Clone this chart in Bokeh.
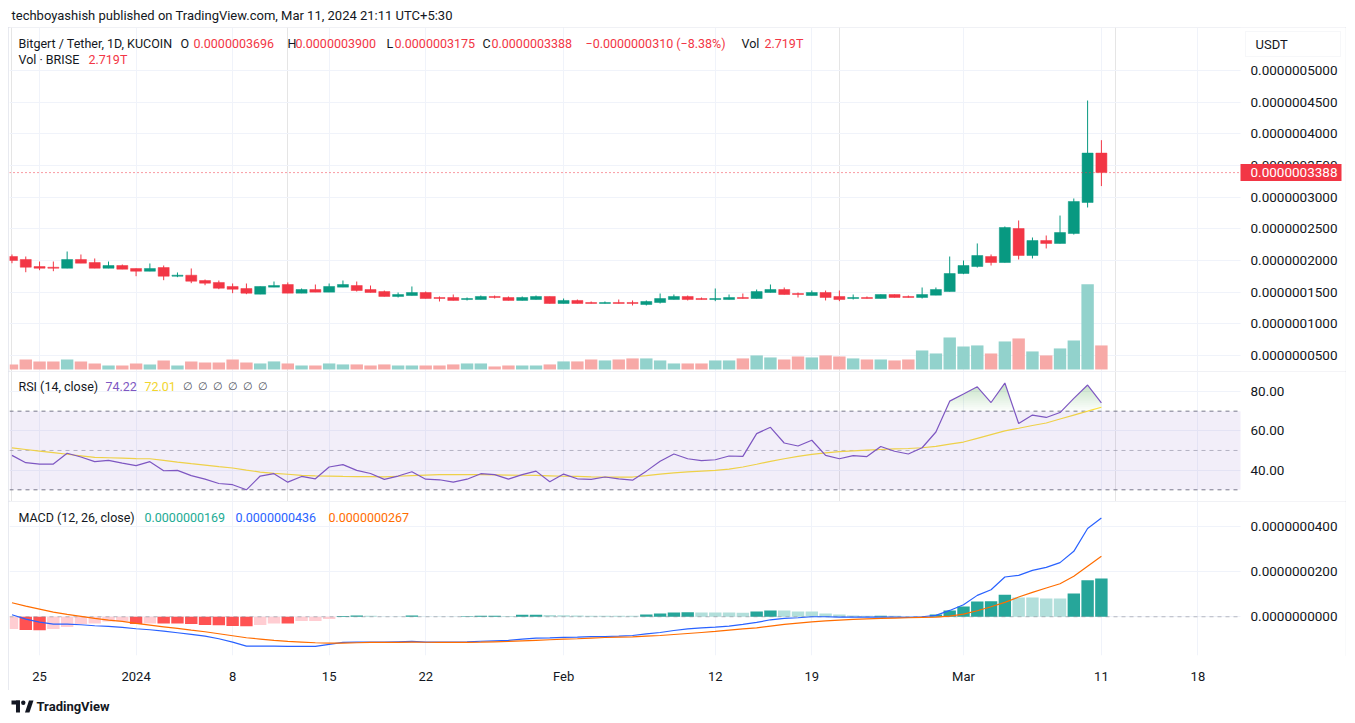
import numpy as np
import pandas as pd
from bokeh.plotting import figure
from bokeh.layouts import column
from bokeh.models import (ColumnDataSource, Range1d, FixedTicker, BoxAnnotation,
                          Label, Grid, PrintfTickFormatter)
from bokeh.embed import file_html
from bokeh.resources import INLINE

# ---------------------------------------------------------------- data
START_DATE = "2023-12-23"
N_DAYS = 80
E10 = 1e-10  # prices below are given in units of 1e-10 USDT

OPEN_E10 = [2063, 2016, 1905, 1894, 1878, 2016, 1968, 1878, 1921, 1874,
            1831, 1889, 1752, 1768, 1684, 1653, 1590, 1558, 1468, 1579,
            1621, 1484, 1542, 1500, 1579, 1605, 1542, 1510, 1432, 1447,
            1495, 1416, 1416, 1384, 1384, 1432, 1416, 1369, 1384, 1432,
            1321, 1369, 1337, 1321, 1337, 1337, 1305, 1337, 1384, 1432,
            1400, 1384, 1384, 1416, 1400, 1495, 1542, 1479, 1447, 1495,
            1432, 1400, 1416, 1400, 1463, 1432, 1416, 1452, 1510, 1795,
            1905, 2063, 1968, 2505, 2079, 2316, 2269, 2426, 2916, 3696]
HIGH_E10 = [2095, 2063, 1984, 1984, 2142, 2095, 2032, 1984, 1937, 1874,
            1953, 1921, 1811, 1874, 1700, 1684, 1637, 1637, 1590, 1668,
            1653, 1558, 1621, 1637, 1684, 1668, 1605, 1526, 1495, 1590,
            1510, 1432, 1463, 1416, 1447, 1447, 1432, 1432, 1447, 1432,
            1400, 1384, 1353, 1353, 1384, 1369, 1369, 1479, 1463, 1447,
            1416, 1558, 1463, 1479, 1542, 1621, 1574, 1495, 1526, 1526,
            1526, 1463, 1432, 1463, 1463, 1447, 1574, 1574, 2063, 2000,
            2269, 2095, 2537, 2632, 2363, 2395, 2710, 2979, 4526, 3900]
LOW_E10 = [1957, 1815, 1847, 1831, 1878, 1958, 1878, 1878, 1863, 1752,
           1831, 1689, 1737, 1642, 1610, 1547, 1484, 1468, 1468, 1579,
           1484, 1484, 1500, 1500, 1579, 1510, 1495, 1432, 1416, 1447,
           1400, 1353, 1369, 1369, 1384, 1400, 1369, 1369, 1384, 1321,
           1321, 1321, 1321, 1321, 1321, 1290, 1290, 1321, 1384, 1369,
           1384, 1358, 1384, 1400, 1400, 1495, 1463, 1416, 1447, 1369,
           1358, 1384, 1400, 1400, 1416, 1416, 1400, 1452, 1510, 1784,
           1889, 1921, 1968, 2016, 2032, 2190, 2269, 2410, 2837, 3175]
CLOSE_E10 = [2000, 1894, 1878, 1878, 2016, 1958, 1878, 1921, 1863, 1831,
             1874, 1752, 1768, 1673, 1642, 1563, 1547, 1484, 1590, 1605,
             1484, 1542, 1500, 1590, 1621, 1526, 1495, 1432, 1463, 1495,
             1400, 1400, 1369, 1400, 1432, 1416, 1369, 1416, 1432, 1321,
             1369, 1321, 1321, 1337, 1321, 1321, 1353, 1400, 1432, 1384,
             1384, 1400, 1416, 1400, 1510, 1542, 1463, 1463, 1495, 1416,
             1384, 1416, 1400, 1463, 1416, 1416, 1463, 1542, 1795, 1921,
             2079, 1968, 2521, 2079, 2316, 2269, 2442, 2932, 3696, 3388]
VOL_T = [0.57, 1.13, 0.91, 0.91, 1.13, 0.91, 0.68, 0.45, 0.45, 0.68,
         0.57, 1.02, 0.45, 0.91, 0.79, 0.79, 1.13, 0.79, 0.68, 0.91,
         0.68, 0.45, 0.45, 0.68, 0.57, 0.57, 0.45, 0.57, 0.45, 0.45,
         0.45, 0.45, 0.57, 0.68, 0.68, 0.34, 0.45, 0.45, 0.45, 0.57,
         0.91, 0.91, 1.13, 1.02, 1.13, 1.25, 1.25, 1.02, 0.68, 0.68,
         0.68, 1.02, 1.02, 1.25, 1.59, 1.36, 1.13, 1.47, 1.36, 1.59,
         1.47, 1.25, 1.13, 1.13, 1.02, 1.13, 2.15, 1.81, 3.62, 2.60,
         2.72, 1.81, 3.17, 3.51, 2.04, 1.59, 2.38, 3.28, 9.63, 2.719]

RSI = [47.5, 43.8, 43.1, 43.1, 48.6, 46.7, 44.3, 45.0, 43.6, 42.3,
       44.3, 39.7, 39.9, 37.2, 35.4, 33.2, 32.6, 30.0, 37.0, 38.2,
       33.9, 36.8, 35.6, 41.6, 42.8, 39.9, 38.3, 35.3, 37.0, 39.2,
       35.4, 35.1, 33.9, 35.4, 38.2, 37.7, 35.4, 37.7, 39.5, 34.1,
       38.0, 35.6, 35.3, 36.5, 35.6, 34.9, 39.5, 44.5, 48.2, 45.8,
       44.8, 45.3, 47.2, 47.0, 58.6, 61.8, 53.8, 52.3, 55.2, 47.5,
       45.8, 47.4, 46.9, 52.0, 49.6, 48.2, 51.4, 59.4, 75.1, 78.7,
       82.4, 74.4, 84.3, 63.7, 68.0, 66.8, 69.3, 76.5, 83.3, 74.22]
RSI_MA = [51.3, 50.5, 49.7, 48.9, 48.1, 47.3, 46.5, 46.3, 46.1, 45.9,
          45.8, 45.0, 44.1, 43.3, 42.6, 41.8, 41.1, 40.0, 39.0, 38.4,
          37.9, 37.3, 37.1, 37.0, 36.8, 36.7, 36.7, 36.6, 36.9, 37.2,
          37.5, 37.7, 37.7, 37.7, 37.7, 37.6, 37.5, 37.4, 37.3, 37.1,
          36.9, 36.8, 36.6, 36.5, 36.5, 36.5, 37.2, 38.0, 38.6, 39.1,
          39.5, 39.9, 40.5, 41.6, 43.0, 44.5, 45.8, 47.0, 48.0, 48.8,
          49.4, 49.8, 50.2, 50.5, 50.8, 51.0, 51.4, 52.1, 53.2, 54.3,
          56.2, 58.1, 60.0, 61.3, 62.7, 64.0, 66.0, 68.0, 70.0, 72.01]

MACD_E10 = [8.8, -10.3, -23.5, -32.4, -32.4, -35.3, -39.7, -42.7, -47.1, -53.0,
            -57.4, -63.3, -70.6, -78.0, -85.4, -97.0, -112.0, -129.5, -129.5, -129.5,
            -131.0, -131.0, -131.0, -122.0, -113.3, -111.8, -111.8, -111.8, -110.4, -108.9,
            -111.8, -111.8, -111.8, -111.0, -108.0, -106.0, -104.0, -99.0, -94.0, -93.0,
            -91.0, -90.0, -88.0, -87.0, -85.6, -82.7, -75.3, -69.4, -60.5, -53.1,
            -48.7, -45.8, -41.3, -33.9, -25.1, -13.3, -7.4, -4.4, 0.0, 0.0,
            -1.5, -1.5, -1.5, -1.5, -1.5, -3.0, 0.0, 5.9, 28.0, 53.0,
            94.5, 119.6, 175.6, 183.0, 205.0, 218.4, 239.0, 289.0, 389.7, 436.0]
SIGNAL_E10 = [61.8, 47.1, 33.8, 20.6, 10.3, 1.5, -7.4, -14.7, -20.6, -29.4,
              -36.8, -44.2, -51.5, -58.9, -66.2, -75.0, -83.9, -92.7, -98.6, -104.5,
              -108.9, -111.8, -114.8, -116.3, -116.3, -114.8, -113.3, -113.3, -113.3, -111.8,
              -112.5, -113.0, -113.3, -113.0, -112.0, -110.5, -109.0, -106.5, -104.0, -101.5,
              -99.0, -97.0, -94.0, -91.5, -90.0, -88.6, -85.6, -82.7, -78.2, -73.8,
              -69.4, -64.9, -59.0, -53.1, -48.7, -41.3, -33.9, -28.0, -22.1, -17.7,
              -14.8, -11.8, -8.9, -7.4, -5.9, -4.4, -3.0, -1.5, 3.0, 11.8,
              26.6, 44.3, 63.5, 87.1, 107.7, 127.0, 146.0, 178.6, 222.9, 267.0]
HIST_E10 = [-54.5, -58.9, -59.2, -54.5, -45.6, -32.4, -29.4, -20.6, -20.3, -32.4,
            -29.4, -29.6, -29.8, -32.4, -36.8, -37.0, -41.2, -41.4, -36.8, -29.4,
            -29.6, -19.1, -18.9, -10.3, 2.9, 5.9, 4.4, 1.5, 1.3, 5.9,
            1.5, 1.3, 1.2, 2.5, 4.0, 4.4, 3.0, 8.5, 9.0, 7.5,
            6.5, 5.5, 5.0, 4.6, 4.3, 4.0, 10.3, 14.8, 19.2, 19.5,
            19.0, 18.8, 18.5, 18.2, 23.6, 28.0, 27.5, 23.6, 23.0, 14.8,
            10.3, 5.9, 4.4, 4.8, 4.2, 1.5, 1.2, 10.3, 28.0, 45.8,
            67.9, 68.5, 97.4, 85.6, 85.0, 81.2, 80.5, 103.3, 161.0, 169.0]

TICK_DATES = ["2023-12-25", "2024-01-01", "2024-01-08", "2024-01-15", "2024-01-22",
              "2024-02-01", "2024-02-12", "2024-02-19", "2024-03-01", "2024-03-11",
              "2024-03-18"]
TICK_LABELS = ["25", "2024", "8", "15", "22", "Feb", "12", "19", "Mar", "11", "18"]
PRICE_TICKS_E10 = [500, 1000, 1500, 2000, 2500, 3000, 3500, 4000, 4500, 5000]
RSI_TICKS = [40, 60, 80]
RSI_LEVELS = [70, 50, 30]
MACD_TICKS_E10 = [0, 200, 400]

TITLE = "techboyashish published on TradingView.com, Mar 11, 2024 21:11 UTC+5:30"
SYMBOL = "Bitgert / Tether, 1D, KUCOIN"
CHANGE_TEXT = "\u22120.0000000310 (\u22128.38%)"
VOL_TEXT = "2.719T"

# ---------------------------------------------------------------- styles / geometry
FONT = "Roboto"
TXT = "#131722"
GRID = "#f0f3fa"
UP = "#089981"
DOWN = "#f23645"
VOL_UP = "#92d2cc"
VOL_DOWN = "#f7a9a7"
RSI_C = "#7e57c2"
RSI_MA_C = "#fbdf3b"
MACD_C = "#2962ff"
SIG_C = "#ff6d00"
HIST_TEAL = "#22ab94"
BOX = {"outline": "1px solid #e0e3eb", "outline-offset": "-1px"}

W = 1338               # figure width (page x 8 .. 1346)
FRAME_LEFT = 9         # page x of the frame's left edge
FRAME_RIGHT = 1345     # page x of the frame's right edge (axis labels drawn inside)
AXIS_EDGE = 1240       # page x where the price-scale area begins
PX_DAY = 13.79
X0 = -0.18


def xd(px):
    """page x -> day index"""
    return X0 + (px - FRAME_LEFT) / PX_DAY


X_END = xd(FRAME_RIGHT)
X_EDGE = xd(AXIS_EDGE)

dates = pd.date_range(START_DATE, periods=N_DAYS, freq="D")
x = np.array((dates - dates[0]).days, dtype=float)
tick_x = [int((pd.Timestamp(d) - dates[0]).days) for d in TICK_DATES]
overrides = {}
for t, lab in zip(tick_x, TICK_LABELS):
    overrides[t] = lab
    overrides[str(t)] = lab

o = np.array(OPEN_E10) * E10
h = np.array(HIGH_E10) * E10
l = np.array(LOW_E10) * E10
c = np.array(CLOSE_E10) * E10
up = c >= o
cs = ColumnDataSource(dict(
    x=x, o=o, h=h, l=l, c=c,
    top=np.maximum(o, c), bot=np.minimum(o, c),
    col=np.where(up, UP, DOWN),
    vol=np.array(VOL_T), vcol=np.where(up, VOL_UP, VOL_DOWN),
))

x_range = Range1d(X0, X_END)


def base_fig(height, y_range, mb_bottom=0, with_x=False):
    p = figure(width=W, height=height, x_range=x_range, y_range=y_range,
               x_axis_location="below" if with_x else None, y_axis_location="right",
               output_backend="svg", toolbar_location=None,
               min_border_left=FRAME_LEFT - 8, min_border_right=8 + W - FRAME_RIGHT,
               min_border_top=0, min_border_bottom=mb_bottom,
               outline_line_color=None, background_fill_color="white",
               border_fill_color="white", styles=BOX)
    p.yaxis.axis_line_color = None
    p.yaxis.major_tick_line_color = None
    p.yaxis.minor_tick_line_color = None
    p.yaxis.major_tick_out = 0
    p.yaxis.major_tick_in = 0
    # labels are drawn back inside the frame, in the price-scale area
    p.yaxis.major_label_standoff = -(FRAME_RIGHT - AXIS_EDGE - 10)
    p.yaxis.major_label_text_font = FONT
    p.yaxis.major_label_text_font_size = "13.5px"
    p.yaxis.major_label_text_color = TXT
    p.ygrid.grid_line_color = GRID
    if not with_x:
        p.add_layout(Grid(dimension=0, ticker=FixedTicker(ticks=tick_x),
                          grid_line_color=GRID))
    # blank price-scale strip (hides grid lines there)
    p.add_layout(BoxAnnotation(left=X_EDGE, fill_color="white", fill_alpha=1.0,
                               line_color=None, level="underlay"))
    return p


def add_label(p, sx, sy, text, color=TXT, size="12.5px", style="normal", **kw):
    p.add_layout(Label(x=sx, y=sy, x_units="screen", y_units="screen", text=text,
                       text_color=color, text_font=FONT, text_font_size=size,
                       text_font_style=style, text_baseline="middle",
                       text_align="left", **kw))


def hline(p, yv, color, dash, alpha=1.0):
    p.segment(x0=X0, y0=yv, x1=X_EDGE, y1=yv, line_color=color, line_dash=dash,
              line_alpha=alpha, line_width=1)


# ---------------------------------------------------------------- header
header = figure(width=W, height=19, x_range=(0, 1), y_range=(0, 1),
                x_axis_location=None, y_axis_location=None, output_backend="svg",
                toolbar_location=None, min_border=0, outline_line_color=None)
header.grid.visible = False
add_label(header, 2, 12, TITLE, size="13px")

# ---------------------------------------------------------------- price pane
# frame: page y 27 .. 371
PRICE_BOTTOM = 371
PX_PER_E10 = 0.063333
price = base_fig(344, Range1d((6105.2 - 15.789 * 371) * E10, (6105.2 - 15.789 * 27) * E10))
pt = FixedTicker(ticks=[v * E10 for v in PRICE_TICKS_E10])
price.yaxis.ticker = pt
price.ygrid.ticker = pt
price.yaxis.formatter = PrintfTickFormatter(format="%.10f")
price.extra_y_ranges = {"vol": Range1d(-0.23, 38.7)}

price.vbar(x="x", width=0.9, top="vol", bottom=0, fill_color="vcol", line_color=None,
           source=cs, y_range_name="vol")
price.segment(x0="x", y0="h", x1="x", y1="l", line_color="col", line_width=1, source=cs)
price.vbar(x="x", width=0.8, top="top", bottom="bot", fill_color="col", line_color="col",
           line_width=0.5, source=cs)
hline(price, c[-1], DOWN, "1 3")


def pl(px, py):
    return px - FRAME_LEFT, PRICE_BOTTOM - py


add_label(price, *pl(18, 43), SYMBOL)
fields = [("O", o[-1], 180, 193), ("H", h[-1], 287, 295),
          ("L", l[-1], 386, 394), ("C", c[-1], 482, 491)]
for key, val, kx, vx in fields:
    add_label(price, *pl(kx, 43), key)
    add_label(price, *pl(vx, 43), f"{val:.10f}", color=DOWN)
add_label(price, *pl(585, 43), CHANGE_TEXT, color=DOWN)
add_label(price, *pl(741, 43), "Vol")
add_label(price, *pl(764, 43), VOL_TEXT, color=DOWN)
add_label(price, *pl(18, 59), "Vol \u00b7 BRISE")
add_label(price, *pl(88, 59), VOL_TEXT, color=DOWN)

# last-price tag in the price scale
half_tag = 8.5 / PX_PER_E10 * E10
price.add_layout(BoxAnnotation(left=X_EDGE, right=xd(1341), bottom=c[-1] - half_tag,
                               top=c[-1] + half_tag, fill_color=DOWN, fill_alpha=1.0,
                               line_color=None))
price.add_layout(Label(x=xd(1250), y=c[-1], text=f"{c[-1]:.10f}", text_color="white",
                       text_font=FONT, text_font_size="13.5px", text_baseline="middle",
                       text_align="left"))
# currency box
price.add_layout(BoxAnnotation(left=xd(1245), right=xd(1340),
                               bottom=(6105.2 - 15.789 * 56) * E10,
                               top=(6105.2 - 15.789 * 31) * E10,
                               fill_color="white", fill_alpha=1.0,
                               line_color="#e0e3eb", line_width=1))
add_label(price, *pl(1255, 44), "USDT", size="13px")

# ---------------------------------------------------------------- RSI pane
RSI_BOTTOM = 501
rsi = base_fig(130, Range1d(24.05, 90.18))
rt = FixedTicker(ticks=RSI_TICKS)
rsi.yaxis.ticker = rt
rsi.ygrid.ticker = rt
rsi.yaxis.formatter = PrintfTickFormatter(format="%.2f")
rsi.add_layout(BoxAnnotation(bottom=min(RSI_LEVELS), top=max(RSI_LEVELS), right=X_EDGE,
                             fill_color=RSI_C, fill_alpha=0.1, line_color=None))
for lvl in RSI_LEVELS:
    hline(rsi, lvl, "#787b86", "4 4", 0.5 if lvl == 50 else 1.0)


def above_polys(xs, ys, level):
    px, py = [], []
    cx = cy = None
    for k in range(len(xs)):
        x1, y1 = xs[k], ys[k]
        if k > 0:
            x0, y0 = xs[k - 1], ys[k - 1]
            if (y0 > level) != (y1 > level):
                xc = x0 + (level - y0) * (x1 - x0) / (y1 - y0)
                if cx is None:
                    cx, cy = [xc], [level]
                else:
                    cx.append(xc); cy.append(level)
                    px.append(cx); py.append(cy)
                    cx = cy = None
        if y1 > level:
            if cx is None:
                cx, cy = [x1], [level]
            cx.append(x1); cy.append(y1)
    if cx is not None:
        cx.append(cx[-1]); cy.append(level)
        px.append(cx); py.append(cy)
    return px, py


for lvl in np.arange(70.0, 86.0, 1.0):
    pxs, pys = above_polys(list(x), RSI, lvl)
    if pxs:
        rsi.patches(xs=pxs, ys=pys, fill_color="#4caf50", fill_alpha=0.025,
                    line_color=None)
rsi.line(x, RSI_MA, line_color=RSI_MA_C, line_width=1.2)
rsi.line(x, RSI, line_color=RSI_C, line_width=1.2)


def rl(px, py):
    return px - FRAME_LEFT, RSI_BOTTOM - py


add_label(rsi, *rl(18, 386), "RSI (14, close)")
add_label(rsi, *rl(105, 386), f"{RSI[-1]:.2f}", color=RSI_C)
add_label(rsi, *rl(144, 386), f"{RSI_MA[-1]:.2f}", color="#f2d52e")
for k in range(6):
    add_label(rsi, *rl(182 + 15 * k, 386), "\u2205", size="11px", color="#50535e")

# ---------------------------------------------------------------- MACD pane
MACD_BOTTOM = 655
macd = base_fig(189, Range1d(-171 * E10, 509 * E10), mb_bottom=35, with_x=True)
mt = FixedTicker(ticks=[v * E10 for v in MACD_TICKS_E10])
macd.yaxis.ticker = mt
macd.ygrid.ticker = mt
macd.yaxis.formatter = PrintfTickFormatter(format="%.10f")
xt = FixedTicker(ticks=tick_x)
macd.xaxis.ticker = xt
macd.xgrid.ticker = xt
macd.xgrid.grid_line_color = GRID
macd.xaxis.major_label_overrides = overrides
macd.xaxis.axis_line_color = None
macd.xaxis.major_tick_line_color = None
macd.xaxis.minor_tick_line_color = None
macd.xaxis.major_tick_out = 0
macd.xaxis.major_tick_in = 0
macd.xaxis.major_label_standoff = 13
macd.xaxis.major_label_text_font = FONT
macd.xaxis.major_label_text_font_size = "13px"
macd.xaxis.major_label_text_color = TXT

hist = np.array(HIST_E10)
prev = np.concatenate([[hist[0]], hist[:-1]])
hcol = np.where(hist >= 0,
                np.where(hist >= prev, "#26a69a", "#b2dfdb"),
                np.where(hist < prev, "#ff5252", "#ffcdd2"))
hs = ColumnDataSource(dict(x=x, h=hist * E10, col=hcol))
macd.vbar(x="x", width=0.9, top="h", bottom=0, fill_color="col", line_color=None, source=hs)
hline(macd, 0.0, "#787b86", "4 4", 0.5)
macd.line(x, np.array(MACD_E10) * E10, line_color=MACD_C, line_width=1.2)
macd.line(x, np.array(SIGNAL_E10) * E10, line_color=SIG_C, line_width=1.2)


def ml(px, py):
    return px - FRAME_LEFT, MACD_BOTTOM - py


add_label(macd, *ml(18, 517), "MACD (12, 26, close)")
add_label(macd, *ml(144, 517), f"{HIST_E10[-1] * E10:.10f}", color=HIST_TEAL)
add_label(macd, *ml(235, 517), f"{MACD_E10[-1] * E10:.10f}", color=MACD_C)
add_label(macd, *ml(328, 517), f"{SIGNAL_E10[-1] * E10:.10f}", color=SIG_C)

# ---------------------------------------------------------------- footer (page y 690 .. 715)
FOOT_H = 25
footer = figure(width=W, height=FOOT_H, x_range=Range1d(8, 8 + W),
                y_range=Range1d(690 + FOOT_H, 690),
                x_axis_location=None, y_axis_location=None, output_backend="svg",
                toolbar_location=None, min_border=0, outline_line_color=None)
footer.grid.visible = False
# small TradingView-style mark
footer.quad(left=[10, 14.5], right=[18.5, 18.5], top=[700, 700], bottom=[704, 712],
            fill_color=TXT, line_color=None)
footer.circle(x=[21.8], y=[702.2], radius=2.2, fill_color=TXT, line_color=None)
footer.patch(x=[23.5, 28, 32, 27.5], y=[712, 712, 700, 700], fill_color=TXT, line_color=None)
add_label(footer, 35 - 8, 690 + FOOT_H - 706, "TradingView", size="13px", style="bold")

layout = column(header, price, rsi, macd, footer, spacing=0, margin=(8, 8, 0, 8))
open("out.html", "w").write(file_html(layout, INLINE))
